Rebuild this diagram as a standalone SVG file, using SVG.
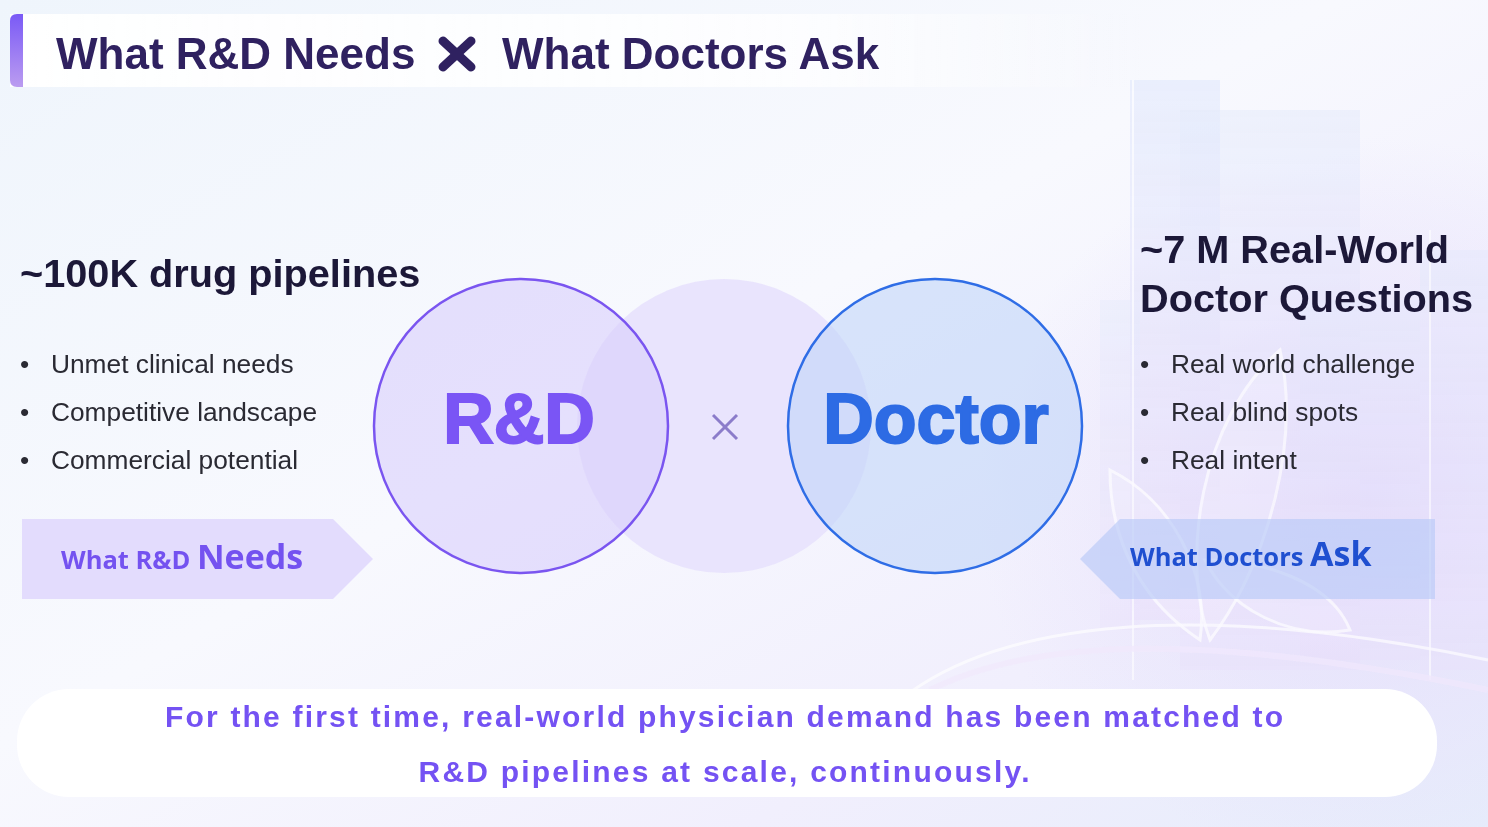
<svg xmlns="http://www.w3.org/2000/svg" width="1488" height="827" viewBox="0 0 1488 827">
<defs>
<linearGradient id="bg" x1="0" y1="0" x2="1" y2="1">
<stop offset="0" stop-color="#eff5fc"/>
<stop offset="0.45" stop-color="#f8f9fe"/>
<stop offset="0.75" stop-color="#f1effd"/>
<stop offset="1" stop-color="#e6ecfb"/>
</linearGradient>
<radialGradient id="glowR" cx="0.85" cy="0.55" r="0.5">
<stop offset="0" stop-color="#e4dcfb" stop-opacity="0.9"/>
<stop offset="1" stop-color="#e4dcfb" stop-opacity="0"/>
</radialGradient>
<linearGradient id="titleBand" x1="0" y1="0" x2="1" y2="0">
<stop offset="0" stop-color="#ffffff" stop-opacity="0.95"/>
<stop offset="0.7" stop-color="#ffffff" stop-opacity="0.75"/>
<stop offset="1" stop-color="#ffffff" stop-opacity="0"/>
</linearGradient>
<linearGradient id="accent" x1="0" y1="0" x2="0" y2="1">
<stop offset="0" stop-color="#7a5af6"/>
<stop offset="1" stop-color="#bb9cf0"/>
</linearGradient>
<linearGradient id="bld" x1="0" y1="0" x2="0" y2="1">
<stop offset="0" stop-color="#dfe7fb" stop-opacity="0.7"/>
<stop offset="1" stop-color="#e9ddfb" stop-opacity="0.5"/>
</linearGradient>
<style>
.h{font-family:"Liberation Sans",Arial,sans-serif;font-weight:bold;fill:#1c1838}
.b{font-family:"Liberation Sans",Arial,sans-serif;font-size:26.3px;fill:#2a2a33}
.tag{font-family:"Open Sans","Liberation Sans",sans-serif;font-weight:bold}
.big{font-family:"Liberation Sans",Arial,sans-serif;font-weight:bold;font-size:70px;text-anchor:middle}
.foot{font-family:"Liberation Sans",Arial,sans-serif;font-weight:bold;font-size:30px;fill:#7452f3;text-anchor:middle}
</style>
</defs>

<!-- background -->
<rect x="0" y="0" width="1488" height="827" fill="url(#bg)"/>
<rect x="700" y="100" width="788" height="727" fill="url(#glowR)"/>
<g id="decor" opacity="0.8">
<rect x="1130" y="80" width="90" height="540" fill="url(#bld)"/>
<rect x="1180" y="110" width="180" height="560" fill="url(#bld)" opacity="0.7"/>
<rect x="1300" y="300" width="120" height="360" fill="url(#bld)" opacity="0.6"/>
<rect x="1420" y="250" width="68" height="420" fill="url(#bld)" opacity="0.6"/>
<rect x="1100" y="300" width="40" height="330" fill="url(#bld)" opacity="0.5"/>
<line x1="1133" y1="80" x2="1133" y2="680" stroke="#ffffff" stroke-width="2" opacity="0.7"/>
<line x1="1430" y1="230" x2="1430" y2="680" stroke="#ffffff" stroke-width="2" opacity="0.7"/>
<path d="M1210 640 C1180 560 1200 420 1280 350 C1300 440 1270 560 1210 640 Z" fill="#ffffff" fill-opacity="0.25" stroke="#ffffff" stroke-width="3" opacity="0.8"/>
<path d="M1200 640 C1140 600 1110 540 1110 470 C1170 500 1210 570 1200 640 Z" fill="#ffffff" fill-opacity="0.2" stroke="#ffffff" stroke-width="3" opacity="0.8"/>
<path d="M1205 560 C1260 560 1330 580 1350 630 C1290 640 1230 610 1205 560 Z" fill="#ffffff" fill-opacity="0.2" stroke="#ffffff" stroke-width="3" opacity="0.8"/>
<path d="M900 700 C1000 620 1200 600 1488 660" fill="none" stroke="#ffffff" stroke-width="3" opacity="0.8"/>
<path d="M930 690 C1030 640 1200 630 1488 690" fill="none" stroke="#f1e8fd" stroke-width="6" opacity="0.8"/>
</g>

<!-- title -->
<g id="title">
<rect x="10" y="14" width="1130" height="73" fill="url(#titleBand)"/>
<path d="M17 14 H23 V87 H17 Q10 87 10 80 V21 Q10 14 17 14 Z" fill="url(#accent)"/>
<text class="h" x="56" y="69" font-size="44" style="fill:#2f2160">What R&amp;D Needs</text>
<g stroke="#2f2160" stroke-width="9" stroke-linecap="round">
<line x1="443" y1="41" x2="471" y2="67"/>
<line x1="471" y1="41" x2="443" y2="67"/>
</g>
<text class="h" x="502" y="69" font-size="44" style="fill:#2f2160">What Doctors Ask</text>
</g>

<!-- left column -->
<g id="left-text">
<text class="h" x="20" y="287" font-size="39.7">~100K drug pipelines</text>
<text class="b" x="20" y="373">•</text><text class="b" x="51" y="373">Unmet clinical needs</text>
<text class="b" x="20" y="421">•</text><text class="b" x="51" y="421">Competitive landscape</text>
<text class="b" x="20" y="469">•</text><text class="b" x="51" y="469">Commercial potential</text>
</g>
<g id="left-tag">
<polygon points="22,519 333,519 373,559 333,599 22,599" fill="#e3dcfd"/>
<text class="tag" x="61" y="569" fill="#7452f0"><tspan font-size="25.5">What R&amp;D </tspan><tspan font-size="34">Needs</tspan></text>
</g>

<!-- circles -->
<g id="middle-circle">
<circle cx="724" cy="426" r="147" fill="#e6e0fd" fill-opacity="0.85"/>
</g>
<g id="rd-circle">
<circle cx="521" cy="426" r="147" fill="#d8cffc" fill-opacity="0.6" stroke="#7a55f0" stroke-width="2.5"/>
<text class="big" x="519" y="443" fill="#7a55f5" stroke="#7a55f5" stroke-width="2">R&amp;D</text>
</g>
<g id="times">
<g stroke="#8b7cca" stroke-width="3">
<line x1="713" y1="415" x2="737" y2="439"/>
<line x1="737" y1="415" x2="713" y2="439"/>
</g>
</g>
<g id="doctor-circle">
<circle cx="935" cy="426" r="147" fill="#c2d6f8" fill-opacity="0.6" stroke="#2f6de6" stroke-width="2.5"/>
<text class="big" x="936" y="443" fill="#2d6be4" stroke="#2d6be4" stroke-width="2">Doctor</text>
</g>

<!-- right column -->
<g id="right-text">
<text class="h" x="1140" y="263" font-size="39.7">~7 M Real-World</text>
<text class="h" x="1140" y="312" font-size="39.7">Doctor Questions</text>
<text class="b" x="1140" y="373">•</text><text class="b" x="1171" y="373">Real world challenge</text>
<text class="b" x="1140" y="421">•</text><text class="b" x="1171" y="421">Real blind spots</text>
<text class="b" x="1140" y="469">•</text><text class="b" x="1171" y="469">Real intent</text>
</g>
<g id="right-tag">
<polygon points="1080,559 1120,519 1435,519 1435,599 1120,599" fill="#b8c9f7" fill-opacity="0.65"/>
<text class="tag" x="1130" y="566" fill="#1f4fd0"><tspan font-size="25.5">What Doctors </tspan><tspan font-size="34">Ask</tspan></text>
</g>

<!-- footer -->
<g id="footer">
<rect x="17" y="689" width="1420" height="108" rx="52" fill="#ffffff"/>
<text class="foot" x="724" y="727" textLength="1118" lengthAdjust="spacing">For the first time, real-world physician demand has been matched to</text>
<text class="foot" x="724" y="782" textLength="611" lengthAdjust="spacing">R&amp;D pipelines at scale, continuously.</text>
</g>
</svg>
